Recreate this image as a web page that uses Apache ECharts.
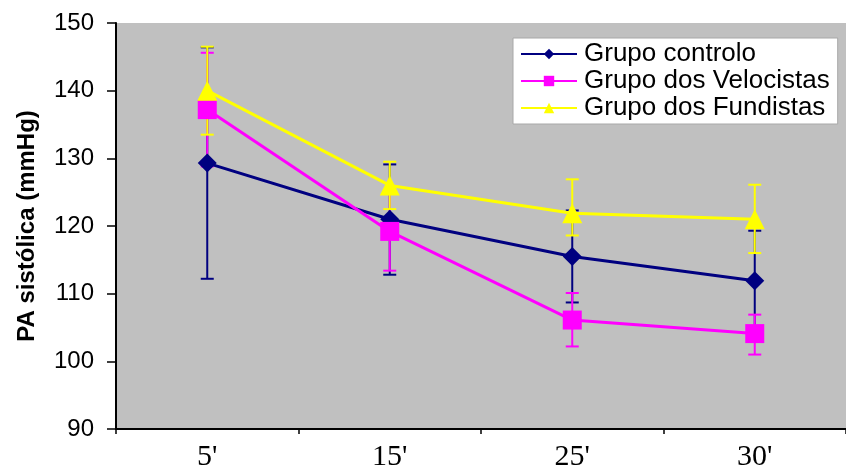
<!DOCTYPE html>
<html>
<head>
<meta charset="utf-8">
<script src="https://cdn.jsdelivr.net/npm/echarts@6/dist/echarts.min.js"></script>
<style>
html,body{margin:0;padding:0;background:#fff;}
#chart{width:846px;height:472px;}
</style>
</head>
<body>
<div id="chart"></div>
<script>
var categories = ["5'", "15'", "25'", "30'"];
var yTicks = [90, 100, 110, 120, 130, 140, 150];

var controloName = 'Grupo controlo';
var controloValues = [129.3, 121.0, 115.5, 111.9];
var controloLow = [112.2, 112.8, 108.7, 104.4];
var controloHigh = [146.4, 129.1, 122.3, 119.3];

var velocistasName = 'Grupo dos Velocistas';
var velocistasValues = [137.2, 119.2, 106.1, 104.1];
var velocistasLow = [128.8, 113.4, 102.2, 101.0];
var velocistasHigh = [145.6, 125.0, 110.1, 106.9];

var fundistasName = 'Grupo dos Fundistas';
var fundistasValues = [140.0, 126.0, 121.9, 121.0];
var fundistasLow = [133.5, 122.5, 118.6, 116.0];
var fundistasHigh = [146.5, 129.5, 126.9, 126.1];

var NAVY = '#000080', MAGENTA = '#FF00FF', YELLOW = '#FFFF00';

function errData(low, high) {
  return categories.map(function (c, i) { return [i, low[i], high[i]]; });
}
function errSeries(name, color, low, high) {
  return {
    type: 'custom',
    name: name + ' err',
    z: 1,
    silent: true,
    data: errData(low, high),
    encode: { x: 0, y: [1, 2] },
    renderItem: function (params, api) {
      var i = api.value(0);
      var lo = api.coord([i, api.value(1)]);
      var hi = api.coord([i, api.value(2)]);
      var w = 6.5;
      var st = { stroke: color, lineWidth: 2 };
      return {
        type: 'group',
        children: [
          { type: 'line', shape: { x1: lo[0], y1: lo[1], x2: hi[0], y2: hi[1] }, style: st },
          { type: 'line', shape: { x1: lo[0] - w, y1: lo[1], x2: lo[0] + w, y2: lo[1] }, style: st },
          { type: 'line', shape: { x1: hi[0] - w, y1: hi[1], x2: hi[0] + w, y2: hi[1] }, style: st }
        ]
      };
    }
  };
}
function lineSeries(name, color, symbol, size, values) {
  return {
    type: 'line',
    name: name,
    z: 3,
    data: values,
    symbol: symbol,
    symbolSize: size,
    showAllSymbol: true,
    lineStyle: { color: color, width: 3 },
    itemStyle: { color: color, borderWidth: 0 },
    emphasis: { disabled: true },
    animation: false
  };
}

var chart = echarts.init(document.getElementById('chart'), null, { renderer: 'canvas' });
chart.setOption({
  animation: false,
  backgroundColor: '#ffffff',
  grid: {
    left: 116, top: 23, right: -12, bottom: 42,
    show: true, backgroundColor: '#C0C0C0', borderWidth: 0
  },
  legend: {
    orient: 'vertical',
    left: 513, top: 38,
    padding: [3, 8, 3, 7],
    itemGap: 1,
    itemWidth: 56,
    itemHeight: 13,
    backgroundColor: '#ffffff',
    borderColor: '#a8a8a8',
    borderWidth: 1,
    borderRadius: 0,
    lineStyle: { width: 2 },
    textStyle: { fontFamily: 'Liberation Sans', fontSize: 26, color: '#000', lineHeight: 26, padding: [0, 0, 0, 2] },
    data: [controloName, velocistasName, fundistasName]
  },
  xAxis: {
    type: 'category',
    data: categories,
    boundaryGap: true,
    axisLine: { lineStyle: { color: '#000', width: 2 } },
    axisTick: { show: true, length: 5, lineStyle: { color: '#000', width: 1.5 } },
    axisLabel: { fontFamily: 'Liberation Serif', fontSize: 30, color: '#000', margin: 13 },
    splitLine: { show: false }
  },
  yAxis: {
    type: 'value',
    min: yTicks[0], max: yTicks[yTicks.length - 1], interval: 10,
    name: 'PA sistólica (mmHg)',
    nameLocation: 'middle',
    nameGap: 77,
    nameRotate: 90,
    nameTextStyle: { fontFamily: 'Liberation Sans', fontSize: 24, fontWeight: 'bold', color: '#000' },
    axisLine: { show: true, lineStyle: { color: '#000', width: 2 } },
    axisTick: { show: true, inside: false, length: 9, lineStyle: { color: '#000', width: 1.5 } },
    axisLabel: { fontFamily: 'Liberation Sans', fontSize: 24, color: '#000', margin: 22 },
    splitLine: { show: false }
  },
  series: [
    errSeries(controloName, NAVY, controloLow, controloHigh),
    errSeries(velocistasName, MAGENTA, velocistasLow, velocistasHigh),
    errSeries(fundistasName, YELLOW, fundistasLow, fundistasHigh),
    lineSeries(controloName, NAVY, 'diamond', 19, controloValues),
    lineSeries(velocistasName, MAGENTA, 'rect', 19, velocistasValues),
    lineSeries(fundistasName, YELLOW, 'triangle', 20, fundistasValues)
  ]
});
</script>
</body>
</html>
